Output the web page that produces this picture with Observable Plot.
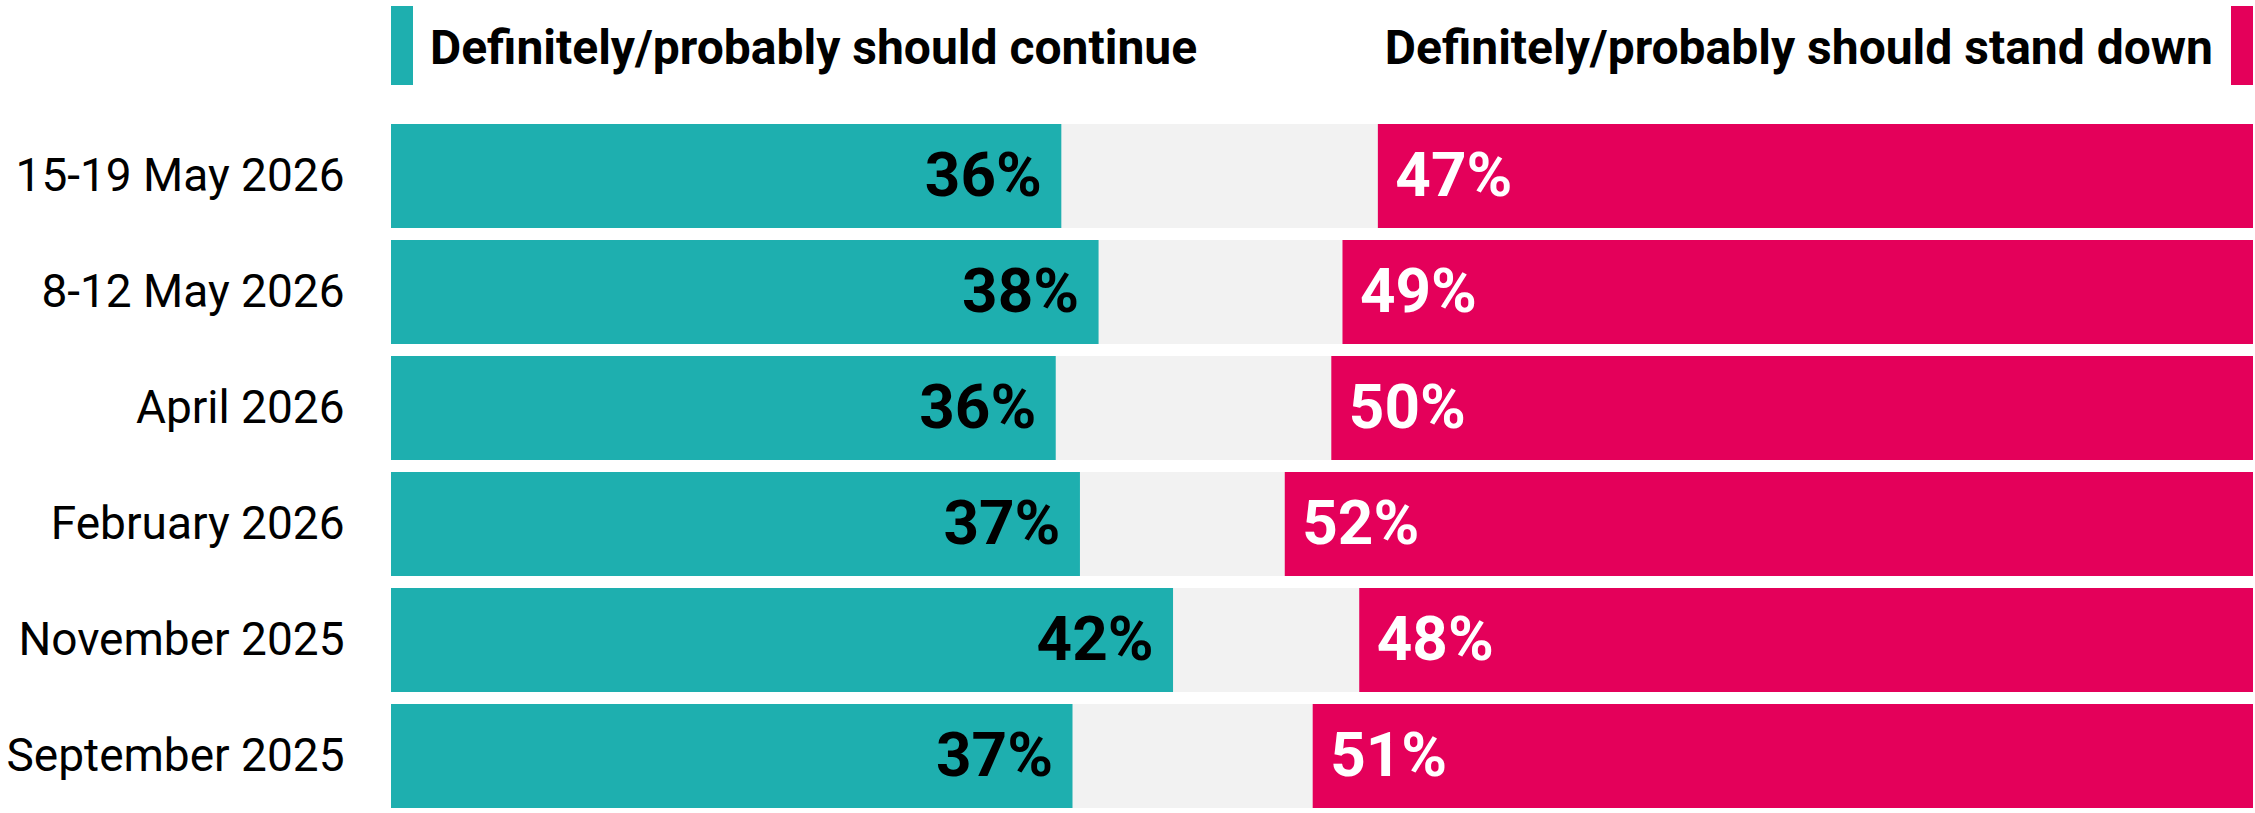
<!DOCTYPE html>
<html>
<head>
<meta charset="utf-8">
<script src="https://cdn.jsdelivr.net/npm/d3@7"></script>
<script src="https://cdn.jsdelivr.net/npm/@observablehq/plot@0.6"></script>
<style>
  html, body { margin: 0; padding: 0; background: #fff; }
  body { width: 2255px; height: 813px; overflow: hidden; font-family: Roboto, sans-serif; }
  #legend { position: relative; width: 2255px; height: 110px; }
  .sw { position: absolute; top: 6px; width: 22px; height: 79px; }
  .lt { position: absolute; top: 20px; font-weight: bold; font-size: 48px; line-height: 56px; color: #000; white-space: nowrap; }
</style>
</head>
<body>
<div id="legend">
  <div class="sw" style="left:391px;background:#1EAFAF"></div>
  <div class="lt" id="ltLeft" style="left:430px"></div>
  <div class="lt" id="ltRight" style="right:42px;text-align:right"></div>
  <div class="sw" style="left:2231px;background:#E4005A"></div>
</div>
<div id="chart"></div>
<script>
const categories = ["15-19 May 2026", "8-12 May 2026", "April 2026", "February 2026", "November 2025", "September 2025"];
const continueVals = [36.0, 38.0, 35.7, 37.0, 42.0, 36.6];
const standDownVals = [47.0, 48.9, 49.5, 52.0, 48.0, 50.5];
const seriesNames = ["Definitely/probably should continue", "Definitely/probably should stand down"];
const colors = ["#1EAFAF", "#E4005A"];

document.getElementById("ltLeft").textContent = seriesNames[0];
document.getElementById("ltRight").textContent = seriesNames[1];

const rows = categories.map((c, i) => ({cat: c, cont: continueVals[i], down: standDownVals[i], downStart: 100 - standDownVals[i]}));
const font = 'Roboto, sans-serif';

const chart = Plot.plot({
  width: 2255,
  height: 703,
  marginLeft: 391,
  marginRight: 2,
  marginTop: 12,
  marginBottom: 2,
  style: {fontFamily: font, background: "#fff", color: "#000"},
  x: {domain: [0, 100], axis: null},
  y: {domain: categories, padding: 0.1, paddingOuter: 0},
  marks: [
    Plot.barX(rows, {y: "cat", x1: 0, x2: 100, fill: "#F2F2F2"}),
    Plot.barX(rows, {y: "cat", x1: 0, x2: "cont", fill: colors[0]}),
    Plot.barX(rows, {y: "cat", x1: "downStart", x2: 100, fill: colors[1]}),
    Plot.text(rows, {y: "cat", x: "cont", text: d => Math.round(d.cont) + "%", textAnchor: "end", dx: -20, fill: "#000", fontWeight: "bold", fontSize: 62, fontFamily: font}),
    Plot.text(rows, {y: "cat", x: "downStart", text: d => Math.round(d.down) + "%", textAnchor: "start", dx: 17, fill: "#fff", fontWeight: "bold", fontSize: 62, fontFamily: font}),
    Plot.axisY({tickSize: 0, tickPadding: 47, fontSize: 46, label: null, fill: "#000"})
  ]
});
document.getElementById("chart").appendChild(chart);
</script>
</body>
</html>
